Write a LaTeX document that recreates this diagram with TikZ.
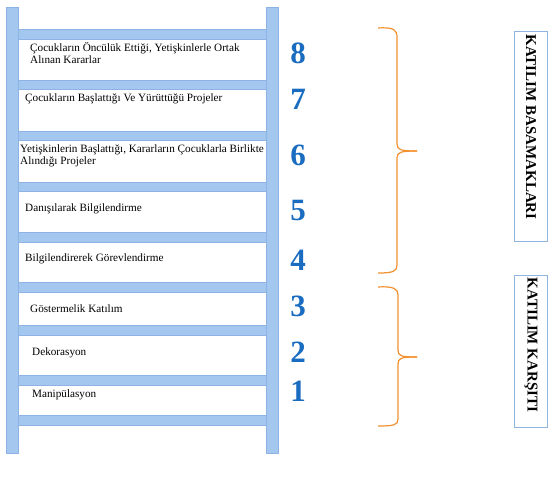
\documentclass[tikz,border=0pt]{standalone}
\usepackage{fontspec}
\setmainfont{Liberation Serif}
\begin{document}
\begin{tikzpicture}[x=1pt,y=-1pt,
  rail/.style={fill=ladderfill,draw=ladderedge,line width=0.6pt},
  lbl/.style={anchor=base west,inner sep=0pt,font=\fontsize{11.2}{12.5}\selectfont,align=left},
  num/.style={text=numblue,font=\fontsize{31}{31}\bfseries\selectfont,inner sep=0pt},
  brc/.style={draw=braceorange,line width=1.2pt},
  sidebox/.style={draw=boxblue,line width=0.8pt},
  sidetxt/.style={rotate=-90,font=\fontsize{15}{15}\bfseries\selectfont,inner sep=0pt}]
\definecolor{ladderfill}{HTML}{A3C7EF}
\definecolor{ladderedge}{HTML}{8CB3E3}
\definecolor{numblue}{HTML}{1A6CC0}
\definecolor{braceorange}{HTML}{F2912E}
\definecolor{boxblue}{HTML}{8FB4E0}
\useasboundingbox (0,0) rectangle (555,477);
% rungs
\foreach \a/\b in {29/39,80/89,131/140,182/191,232/242,282/292,325/335,375/385,415/425}
  \draw[rail] (17,\a) rectangle (267,\b);
% rails
\draw[rail] (6,7) rectangle (18,453);
\draw[rail] (266,7) rectangle (278,453);
% labels (base = last line)
\node[lbl] (t8) at (30,63.5) {Çocukların Öncülük Ettiği, Yetişkinlerle Ortak\\Alınan Kararlar};
\node[lbl] (t7) at (25,101) {Çocukların Başlattığı Ve Yürüttüğü Projeler};
\node[lbl] (t6) at (20,164.5) {Yetişkinlerin Başlattığı, Kararların Çocuklarla Birlikte\\Alındığı Projeler};
\node[lbl] (t5) at (25,211) {Danışılarak Bilgilendirme};
\node[lbl] (t4) at (25,261) {Bilgilendirerek Görevlendirme};
\node[lbl] (t3) at (30,312) {Göstermelik Katılım};
\node[lbl] (t2) at (32,355) {Dekorasyon};
\node[lbl] (t1) at (32,397) {Manipülasyon};
% numbers
\node[num] (n8) at (298,53) {8};
\node[num] (n7) at (298,99) {7};
\node[num] (n6) at (298,155) {6};
\node[num] (n5) at (298,210) {5};
\node[num] (n4) at (298,260) {4};
\node[num] (n3) at (298,306) {3};
\node[num] (n2) at (298,352) {2};
\node[num] (n1) at (298,391) {1};
% braces
\draw[brc] (378,28) .. controls (394,27) and (397,30) .. (397,37) -- (397,144)
  .. controls (397,150) and (401,151) .. (417,151);
\draw[brc] (417,151) .. controls (401,151) and (397,152) .. (397,158) -- (397,265)
  .. controls (397,271) and (394,273) .. (378,273);
\draw[brc] (378,287) .. controls (394,286) and (398,289) .. (398,295) -- (398,350)
  .. controls (398,356) and (401,357) .. (417,357);
\draw[brc] (417,357) .. controls (401,357) and (398,358) .. (398,364) -- (398,419)
  .. controls (398,425) and (394,426) .. (378,426);
% side boxes
\draw[sidebox] (514,31) rectangle (547,241);
\node[sidetxt] (s1) at (531,127) {KATILIM BASAMAKLARI};
\draw[sidebox] (514,275) rectangle (547,427);
\node[sidetxt] (s2) at (531,345) {KATILIM KARŞITI};
\end{tikzpicture}
\end{document}
